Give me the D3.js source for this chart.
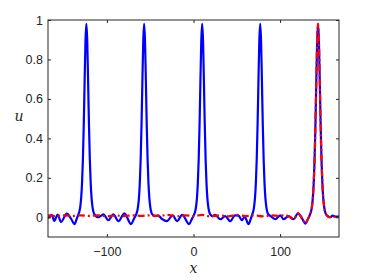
<!DOCTYPE html>
<html>
<head>
<meta charset="utf-8">
<script src="https://cdn.jsdelivr.net/npm/d3@7"></script>
<style>
  body { margin: 0; background: #fff; }
  .tick text { font-family: "Liberation Sans", Arial, sans-serif; font-size: 12.5px; fill: #262626; }
  .lbl { font-family: "DejaVu Serif", "Liberation Serif", serif; font-style: italic; font-size: 14px; fill: #262626; }
</style>
</head>
<body>
<div id="chart"></div>
<script>
// values
var xTicks = [-100, 0, 100];
var yTicks = [0, 0.2, 0.4, 0.6, 0.8, 1];

var blueX = [-168, -166, -163.7, -160.7, -156.8, -153, -146.4, -141, -137.6, -135,
  -132.7, -131.7, -130.7, -129.7, -128.7, -127.7, -126.7, -125.7, -124.7, -123.7, -122.7, -121.7, -120.7, -119.7, -118.7, -117.7, -116.7, -115.7, -114.7,
  -110, -104, -98.3, -92.5, -86.7, -79.8, -72, -69,
  -66, -65, -64, -63, -62, -61, -60, -59, -58, -57, -56, -55, -54, -53, -52, -51, -50, -49, -48,
  -44.5, -41, -36.5, -30.8, -24, -19, -13, -5, -2,
  1, 2, 3, 4, 5, 6, 7, 8, 9, 10, 11, 12, 13, 14, 15, 16, 17, 18, 19,
  22, 25, 31, 36.6, 42.4, 48, 52, 56, 59, 63.6, 66,
  68, 69, 70, 71, 72, 73, 74, 75, 76, 77, 78, 79, 80, 81, 82, 83, 84, 85, 86,
  89.5, 94.5, 100.2, 104, 109.8, 115.6, 120.7, 125.3, 129.1, 132,
  134.8, 135.8, 136.8, 137.8, 138.8, 139.8, 140.8, 141.8, 142.8, 143.8, 144.8, 145.8, 146.8, 147.8, 148.8, 149.8, 150.8, 151.8, 152.8,
  155.5, 158, 160.5, 163.8, 168];
var blueU = [-0.005, 0.005, 0.012, -0.018, 0.014, -0.024, 0.018, -0.01, -0.035, -0.01,
  0.017, 0.030, 0.055, 0.098, 0.173, 0.293, 0.471, 0.692, 0.896, 0.98, 0.896, 0.692, 0.471, 0.293, 0.173, 0.098, 0.055, 0.030, 0.017,
  0.0, 0.015, -0.015, 0.015, -0.02, 0.02, -0.035, -0.01,
  0.017, 0.030, 0.055, 0.098, 0.173, 0.293, 0.471, 0.692, 0.896, 0.98, 0.896, 0.692, 0.471, 0.293, 0.173, 0.098, 0.055, 0.030, 0.017,
  0.006, 0.01, -0.008, -0.02, 0.01, -0.02, 0.012, -0.035, -0.01,
  0.017, 0.030, 0.055, 0.098, 0.173, 0.293, 0.471, 0.692, 0.896, 0.98, 0.896, 0.692, 0.471, 0.293, 0.173, 0.098, 0.055, 0.030, 0.017,
  0.006, 0.012, -0.01, 0.006, -0.02, 0.01, 0.008, -0.015, 0.004, -0.035, -0.01,
  0.017, 0.030, 0.055, 0.098, 0.173, 0.293, 0.471, 0.692, 0.896, 0.98, 0.896, 0.692, 0.471, 0.293, 0.173, 0.098, 0.055, 0.030, 0.017,
  0.005, -0.01, 0.01, -0.01, 0.006, -0.01, 0.02, -0.005, -0.032, -0.01,
  0.017, 0.030, 0.055, 0.098, 0.173, 0.293, 0.471, 0.692, 0.896, 0.98, 0.896, 0.692, 0.471, 0.293, 0.173, 0.098, 0.055, 0.030, 0.017,
  0.004, 0.0, 0.008, 0.003, 0.004];

var redX = [-168, -160, -150, -140, -130, -120, -110, -100, -90, -80, -70, -60, -50, -40, -30, -20, -10,
  0, 10, 20, 30, 40, 50, 60, 70, 80, 90, 100, 105, 110,
  115.6, 120.7, 125.3, 129.1, 132,
  134.8, 135.8, 136.8, 137.8, 138.8, 139.8, 140.8, 141.8, 142.8, 143.8, 144.8, 145.8, 146.8, 147.8, 148.8, 149.8, 150.8, 151.8, 152.8,
  155.5, 158, 160.5, 163.8, 168];
var redU = [0.01, 0.006, 0.01, 0.006, 0.01, 0.007, 0.01, 0.005, 0.009, 0.006, 0.01, 0.007, 0.01, 0.006, 0.012, 0.005, 0.01,
  0.006, 0.012, 0.004, 0.01, 0.005, 0.012, 0.006, 0.01, 0.005, 0.01, 0.006, 0.012, 0.004,
  -0.01, 0.02, -0.005, -0.032, -0.01,
  0.017, 0.030, 0.055, 0.098, 0.173, 0.293, 0.471, 0.692, 0.896, 0.98, 0.896, 0.692, 0.471, 0.293, 0.173, 0.098, 0.055, 0.030, 0.017,
  0.004, 0.0, 0.008, 0.003, 0.004];

var width = 374, height = 280;
var margin = {left: 48, right: 35, top: 20, bottom: 43};
var w = width - margin.left - margin.right;
var h = height - margin.top - margin.bottom;

var svg = d3.select('#chart').append('svg')
    .attr('width', width)
    .attr('height', height);

var g = svg.append('g')
    .attr('transform', 'translate(' + margin.left + ',' + margin.top + ')');

var x = d3.scaleLinear().domain([-168, 168]).range([0, w]);
var y = d3.scaleLinear().domain([-0.1, 1]).range([h, 0]);

g.append('clipPath').attr('id', 'clip')
  .append('rect').attr('width', w).attr('height', h);

var line = d3.line()
    .x(function(d) { return x(d[0]); })
    .y(function(d) { return y(d[1]); })
    .curve(d3.curveMonotoneX);

var plot = g.append('g').attr('clip-path', 'url(#clip)');

plot.append('path')
    .datum(d3.zip(blueX, blueU))
    .attr('d', line)
    .attr('fill', 'none')
    .attr('stroke', '#0000ff')
    .attr('stroke-width', 2.2);

plot.append('path')
    .datum(d3.zip(redX, redU))
    .attr('d', line)
    .attr('fill', 'none')
    .attr('stroke', '#ff0000')
    .attr('stroke-width', 2.2)
    .attr('stroke-dasharray', '7,3,2,3');

function styleAxis(sel) {
  sel.select('.domain').remove();
  sel.selectAll('.tick line').attr('stroke', '#262626');
}

// bottom / left axes with inward ticks
g.append('g')
    .attr('transform', 'translate(0,' + h + ')')
    .call(d3.axisBottom(x).tickValues(xTicks).tickSizeInner(-3).tickPadding(10).tickFormat(d3.format('d')))
    .call(styleAxis);

g.append('g')
    .call(d3.axisLeft(y).tickValues(yTicks).tickSizeInner(-3).tickPadding(5).tickFormat(function(d) { return d === 0 || d === 1 ? d : d3.format('.1f')(d); }))
    .call(styleAxis);

// mirrored ticks on top and right
g.append('g')
    .call(d3.axisTop(x).tickValues(xTicks).tickSizeInner(-3).tickFormat(''))
    .call(styleAxis);

g.append('g')
    .attr('transform', 'translate(' + w + ',0)')
    .call(d3.axisRight(y).tickValues(yTicks).tickSizeInner(-3).tickFormat(''))
    .call(styleAxis);

g.append('rect')
    .attr('width', w)
    .attr('height', h)
    .attr('fill', 'none')
    .attr('stroke', '#262626')
    .attr('stroke-width', 1);

svg.append('text')
    .attr('class', 'lbl')
    .attr('x', margin.left + x(0))
    .attr('y', 273)
    .attr('text-anchor', 'middle')
    .text('x');

svg.append('text')
    .attr('class', 'lbl')
    .attr('x', 19)
    .attr('y', 121)
    .attr('text-anchor', 'middle')
    .text('u');
</script>
</body>
</html>
